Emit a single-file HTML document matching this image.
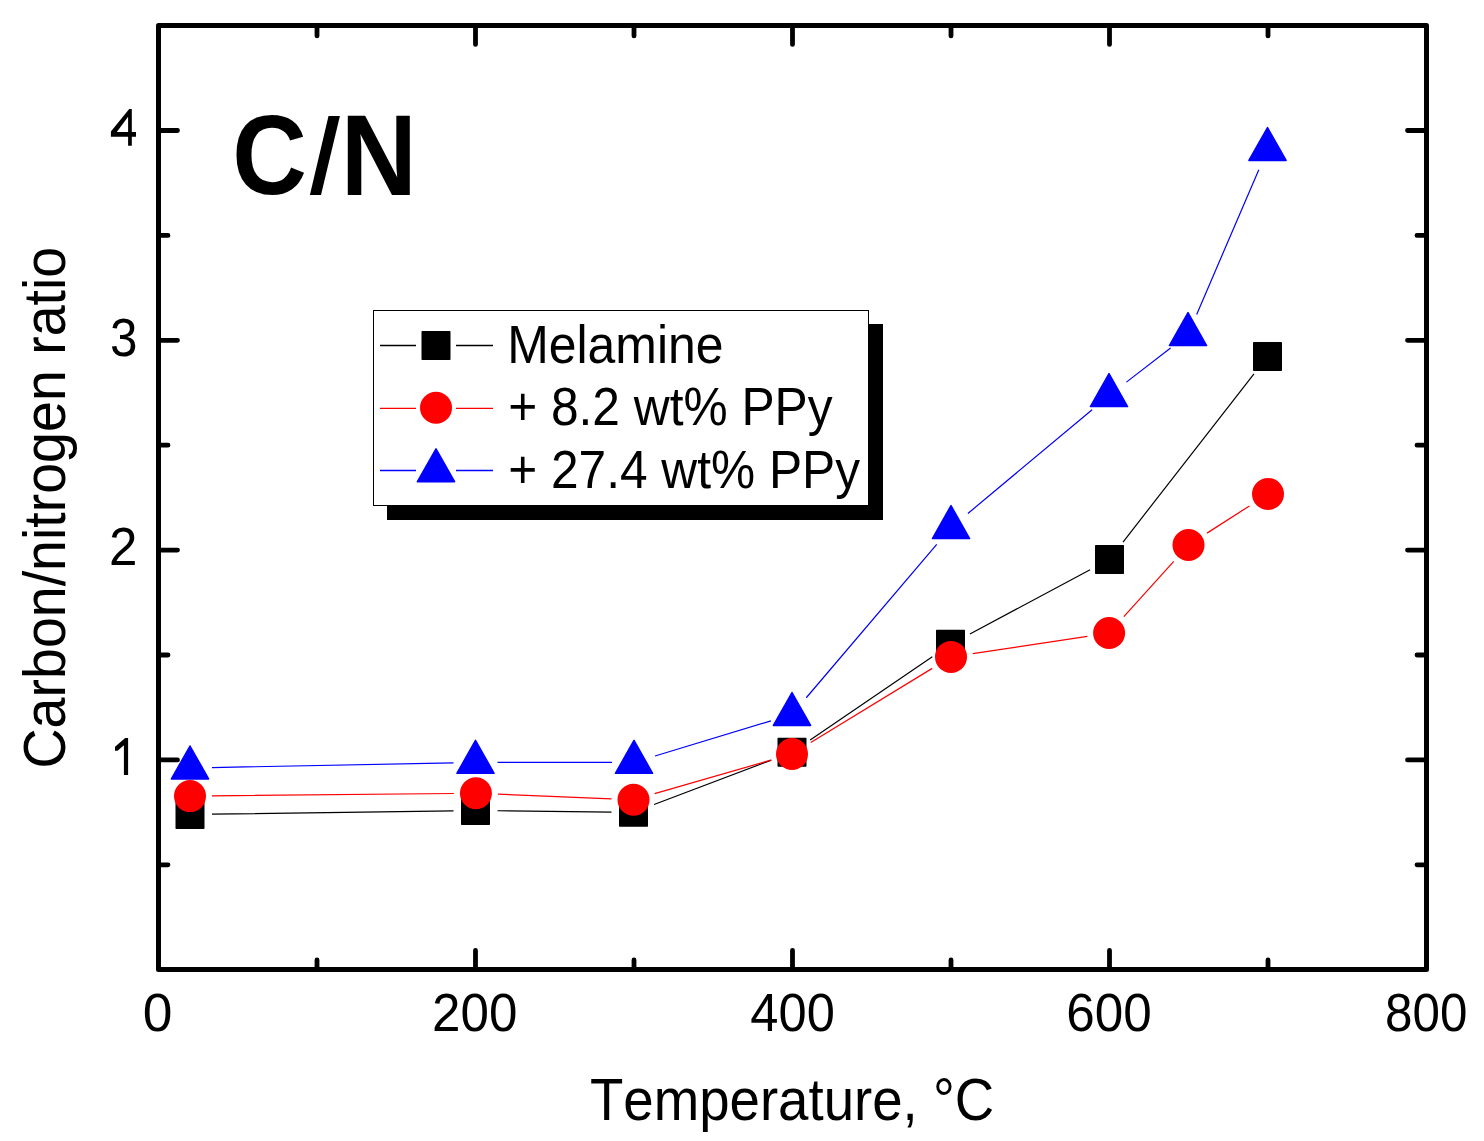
<!DOCTYPE html>
<html><head><meta charset="utf-8"><title>C/N ratio vs temperature</title>
<style>html,body{margin:0;padding:0;background:#fff;width:1484px;height:1141px;overflow:hidden}svg{display:block}text{font-kerning:none}</style>
</head><body>
<svg width="1484" height="1141" viewBox="0 0 1484 1141">
<rect width="1484" height="1141" fill="#fff"/>
<rect x="158.5" y="25.4" width="1268.0" height="944.0" fill="none" stroke="#000" stroke-width="5" stroke-linejoin="round"/>
<path d="M475.50 969.4V950.4M475.50 25.4V44.4M792.50 969.4V950.4M792.50 25.4V44.4M1109.50 969.4V950.4M1109.50 25.4V44.4M317.00 969.4V959.9M317.00 25.4V35.9M634.00 969.4V959.9M634.00 25.4V35.9M951.00 969.4V959.9M951.00 25.4V35.9M1268.00 969.4V959.9M1268.00 25.4V35.9M158.5 759.90H177.5M1426.5 759.90H1407.5M158.5 550.10H177.5M1426.5 550.10H1407.5M158.5 340.30H177.5M1426.5 340.30H1407.5M158.5 130.50H177.5M1426.5 130.50H1407.5M158.5 864.80H168.0M1426.5 864.80H1417.0M158.5 655.00H168.0M1426.5 655.00H1417.0M158.5 445.20H168.0M1426.5 445.20H1417.0M158.5 235.40H168.0M1426.5 235.40H1417.0" stroke="#000" stroke-width="4.8" stroke-linecap="round" fill="none"/>
<rect x="387" y="324" width="496" height="196" fill="#000"/>
<rect x="373.5" y="310.5" width="495" height="195" fill="#fff" stroke="#000" stroke-width="1"/>
<g font-family="Liberation Sans, sans-serif" fill="#000" style="font-kerning:none">
<text x="142.78" y="1031" font-size="53" textLength="29.70" lengthAdjust="spacingAndGlyphs">0</text>
<text x="432.07" y="1031" font-size="53" textLength="85.36" lengthAdjust="spacingAndGlyphs">200</text>
<text x="750.34" y="1031" font-size="53" textLength="84.47" lengthAdjust="spacingAndGlyphs">400</text>
<text x="1066.37" y="1031" font-size="53" textLength="85.46" lengthAdjust="spacingAndGlyphs">600</text>
<text x="1385.04" y="1031" font-size="53" textLength="82.34" lengthAdjust="spacingAndGlyphs">800</text>
<text x="109.94" y="355.9" font-size="53" textLength="27.44" lengthAdjust="spacingAndGlyphs">3</text>
<text x="108.97" y="565.0" font-size="53" textLength="28.41" lengthAdjust="spacingAndGlyphs">2</text>
<text x="589.97" y="1120" font-size="58.5" textLength="404.20" lengthAdjust="spacingAndGlyphs">Temperature, °C</text>
<text x="232.37" y="193.9" font-size="114" font-weight="bold" textLength="74.64" lengthAdjust="spacingAndGlyphs">C</text>
<text x="340.71" y="194.8" font-size="115.5" font-weight="bold" textLength="76.16" lengthAdjust="spacingAndGlyphs">N</text>
<text x="507.17" y="363" font-size="53.5" textLength="216.37" lengthAdjust="spacingAndGlyphs">Melamine</text>
<text x="508.14" y="425" font-size="53.5" textLength="324.42" lengthAdjust="spacingAndGlyphs">+ 8.2 wt% PPy</text>
<text x="508.14" y="488" font-size="53.5" textLength="351.92" lengthAdjust="spacingAndGlyphs">+ 27.4 wt% PPy</text>
<text transform="translate(65 768.50) rotate(-90)" x="0" y="0" font-size="58.5" textLength="521.76" lengthAdjust="spacingAndGlyphs">Carbon/nitrogen ratio</text>
</g>
<path d="M115 746.8L125.2 737.9H128.1V775H123.9V745.3L117.6 750.8H115Z"/><path fill-rule="evenodd" d="M129.2 108.9H131.8V132.1H136V136.8H131.8V145.7H128.1V136.8H110.9V131.5ZM116.8 132.1H128.1V116.8Z"/>
<polygon points="328.5,116 339.9,116 321,194.9 309.9,194.9" fill="#000"/>
<path d="M380 345.5H416M456 345.5H493" stroke="#000" stroke-width="1.3"/>
<path d="M380 408.3H416M456 408.3H493" stroke="#f00" stroke-width="1.3"/>
<path d="M380 470.5H416M456 470.5H493" stroke="#00f" stroke-width="1.3"/>
<g fill="#000" stroke="#000" stroke-width="1.5" stroke-linejoin="round"><rect x="422.25" y="331.75" width="27.5" height="27.5"/></g>
<g fill="#f00"><circle cx="436" cy="407.8" r="16"/></g>
<g fill="#00f" stroke="#00f" stroke-width="1.5" stroke-linejoin="round"><polygon points="436.00,448.80 454.60,481.70 417.40,481.70"/></g>
<path d="M212.00 814.19L453.50 810.81M497.50 810.75L611.50 812.05M654.08 804.51L771.42 760.09M810.18 739.91L932.32 656.69M969.91 633.94L1090.09 569.76M1123.02 542.04L1253.98 373.86" stroke="#000" stroke-width="1.2" fill="none"/>
<g fill="#000" stroke="#000" stroke-width="1.5" stroke-linejoin="round"><rect x="176.25" y="800.75" width="27.5" height="27.5"/><rect x="461.75" y="796.75" width="27.5" height="27.5"/><rect x="619.75" y="798.55" width="27.5" height="27.5"/><rect x="778.25" y="738.55" width="27.5" height="27.5"/><rect x="936.75" y="630.55" width="27.5" height="27.5"/><rect x="1095.75" y="545.65" width="27.5" height="27.5"/><rect x="1253.75" y="342.75" width="27.5" height="27.5"/></g>
<path d="M212.00 795.88L453.90 793.52M497.88 794.21L611.52 798.89M654.64 793.69L770.86 760.11M810.78 742.53L932.22 668.37M972.75 653.61L1087.35 636.29M1123.84 616.67L1173.76 561.33M1207.02 533.12L1249.48 505.88" stroke="#f00" stroke-width="1.2" fill="none"/>
<g fill="#f00"><circle cx="190" cy="796.1" r="16"/><circle cx="475.9" cy="793.3" r="16"/><circle cx="633.5" cy="799.8" r="16"/><circle cx="792" cy="754" r="16"/><circle cx="951" cy="656.9" r="16"/><circle cx="1109.1" cy="633" r="16"/><circle cx="1188.5" cy="545" r="16"/><circle cx="1268" cy="494" r="16"/></g>
<path d="M212.00 767.57L453.50 762.83M497.50 762.40L612.00 762.40M655.05 756.02L770.95 720.88M806.26 697.74L936.74 544.36M967.88 513.49L1092.12 409.71M1126.41 382.15L1170.59 348.05M1196.68 314.39L1258.82 169.71" stroke="#00f" stroke-width="1.2" fill="none"/>
<g fill="#00f" stroke="#00f" stroke-width="1.5" stroke-linejoin="round"><polygon points="190.00,746.00 208.60,778.90 171.40,778.90"/><polygon points="475.50,740.40 494.10,773.30 456.90,773.30"/><polygon points="634.00,740.40 652.60,773.30 615.40,773.30"/><polygon points="792.00,692.50 810.60,725.40 773.40,725.40"/><polygon points="951.00,505.60 969.60,538.50 932.40,538.50"/><polygon points="1109.00,373.60 1127.60,406.50 1090.40,406.50"/><polygon points="1188.00,312.60 1206.60,345.50 1169.40,345.50"/><polygon points="1267.50,127.50 1286.10,160.40 1248.90,160.40"/></g>
</svg>
</body></html>
